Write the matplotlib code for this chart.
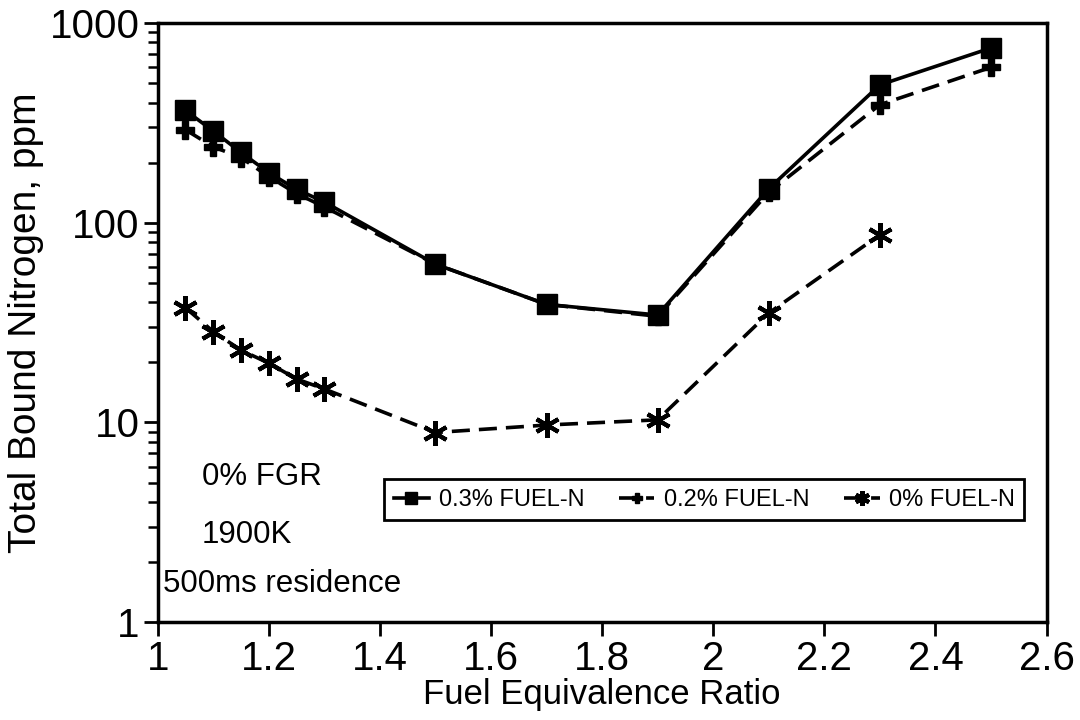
"""
Total bound nitrogen vs fuel equivalence ratio, 0% FGR, 1900K
"""

import matplotlib
matplotlib.use('Agg')
import matplotlib.pyplot as plt
from matplotlib.ticker import FixedLocator, FuncFormatter, LogLocator, NullFormatter

plt.rcParams['font.family'] = ['Liberation Sans', 'DejaVu Sans']

# Measured points
phi = [1.05, 1.1, 1.15, 1.2, 1.25, 1.3, 1.5, 1.7, 1.9, 2.1, 2.3, 2.5]
tbn_03 = [365, 288, 225, 178, 147, 127, 62, 39, 34.5, 148, 490, 750]
tbn_02 = [292, 240, 212, 170, 140, 120, 62, 39, 34, 142, 390, 600]
phi_0 = [1.05, 1.1, 1.15, 1.2, 1.25, 1.3, 1.5, 1.7, 1.9, 2.1, 2.3]
tbn_0 = [37.5, 28.5, 23, 19.8, 16.5, 14.7, 8.9, 9.7, 10.3, 35.3, 87]

x_ticks = [1, 1.2, 1.4, 1.6, 1.8, 2, 2.2, 2.4, 2.6]
notes = ['0% FGR', '1900K', '500ms residence']

fig = plt.figure(figsize=(10.8, 7.2), dpi=100)
ax = fig.add_axes([0.146, 0.136, 0.823, 0.832])

ax.plot(phi, tbn_03, color='black', lw=2.6, ls='-',
        marker='s', ms=14, mfc='black', mec='black',
        label='0.3% FUEL-N')
ax.plot(phi, tbn_02, color='black', lw=2.6, ls=(0, (5, 2.5)),
        marker='P', ms=13, mfc='black', mec='black',
        label='0.2% FUEL-N')
ax.plot(phi_0, tbn_0, color='black', lw=2.6, ls=(0, (5, 2.5)),
        marker=(6, 2, 0), ms=18, mew=3, mec='black',
        label='0% FUEL-N')

ax.set_yscale('log')
ax.set_xlim(1, 2.6)
ax.set_ylim(1, 1000)

ax.xaxis.set_major_locator(FixedLocator(x_ticks))
ax.xaxis.set_major_formatter(FuncFormatter(lambda v, p: f'{v:g}'))
ax.yaxis.set_major_locator(FixedLocator([1, 10, 100, 1000]))
ax.yaxis.set_major_formatter(FuncFormatter(lambda v, p: f'{v:g}'))
ax.yaxis.set_minor_locator(LogLocator(base=10, subs=range(2, 10)))
ax.yaxis.set_minor_formatter(NullFormatter())

ax.tick_params(axis='both', which='major', direction='out', length=10,
               width=2, labelsize=29, pad=3)
ax.tick_params(axis='y', which='minor', direction='out', length=7, width=1.8)
ax.tick_params(top=False, right=False)
for s in ax.spines.values():
    s.set_linewidth(2.5)

ax.set_xlabel('Fuel Equivalence Ratio', fontsize=25, labelpad=0)
ax.set_ylabel('Total Bound Nitrogen, ppm', fontsize=28, labelpad=4)

# Operating conditions
ax.text(0.05, 0.242, notes[0], transform=ax.transAxes, fontsize=22.5,
        va='center', ha='left')
ax.text(0.05, 0.145, notes[1], transform=ax.transAxes, fontsize=22.5,
        va='center', ha='left')
ax.text(0.006, 0.064, notes[2], transform=ax.transAxes, fontsize=22.5,
        va='center', ha='left')

leg = ax.legend(loc='lower left', bbox_to_anchor=(0.255, 0.17, 0.72, 0.07),
                mode='expand', ncol=3, frameon=True, fancybox=False,
                edgecolor='black', framealpha=1, borderaxespad=0,
                handlelength=1.5, handletextpad=0.4, columnspacing=0.6,
                markerscale=0.6, borderpad=0.4,
                prop={'stretch': 'condensed', 'size': 17})
leg.get_frame().set_linewidth(2)

fig.savefig('out.png', dpi=100, facecolor='white')
